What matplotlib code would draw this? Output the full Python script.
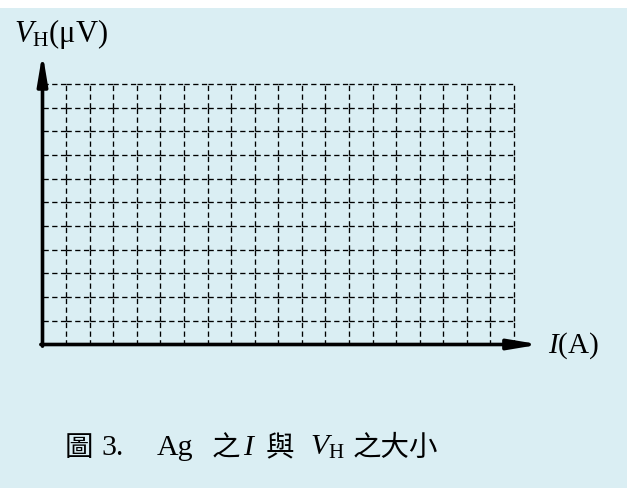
import matplotlib
matplotlib.use("Agg")
import matplotlib.pyplot as plt
from matplotlib.collections import LineCollection
from matplotlib.patches import Rectangle

# empty graph paper: 20 columns x 11 rows
n_cols = 20
n_rows = 11
y_label = r"$V_\mathrm{H}$(μV)"
x_label = r"$I$(A)"
caption_parts = [
    ("圖", 65, "cjk"),
    ("3.", 101, "serif"),
    ("Ag", 157, "serif"),
    ("之", 212, "cjk"),
    (r"$I$", 243, "serif"),
    ("與", 266, "cjk"),
    (r"$V_\mathrm{H}$", 310, "serif"),
    ("之大小", 353, "cjk"),
]

plt.rcParams["mathtext.fontset"] = "custom"
plt.rcParams["mathtext.rm"] = "Liberation Serif"
plt.rcParams["mathtext.it"] = "Liberation Serif:italic"

W, H = 627, 488
bg = "#DAEEF3"
fig = plt.figure(figsize=(W / 100, H / 100), dpi=100, facecolor=bg)
# white strip along the top
fig.patches.append(Rectangle((0, 1 - 8 / H), 1, 8 / H, transform=fig.transFigure,
                             facecolor="white", edgecolor="none"))

x0, x1 = 42.5, 514
y0, y1 = 344.5, 84
ax = fig.add_axes([x0 / W, (H - y0) / H, (x1 - x0) / W, (y0 - y1) / H])
ax.set_xlim(0, n_cols)
ax.set_ylim(0, n_rows)
ax.axis("off")
ax.patch.set_visible(False)

# dashed grid, each cell edge drawn separately
segs = []
for i in range(1, n_cols + 1):
    for j in range(n_rows):
        segs.append([(i, j), (i, j + 1)])
for j in range(1, n_rows + 1):
    for i in range(n_cols):
        segs.append([(i, j), (i + 1, j)])
lc = LineCollection(segs, colors="black", linewidths=0.95,
                    linestyles=[(0, (4.0, 2.6))])
lc.set_clip_on(False)
ax.add_collection(lc)

# axes with arrows
arrow = dict(arrowstyle="-|>,head_length=1.8,head_width=0.3", lw=2.6,
             color="black", shrinkA=0, shrinkB=0, mutation_scale=10)
ax.annotate("", xy=(0, 12.31), xytext=(0, -0.07), arrowprops=arrow,
            annotation_clip=False)
ax.annotate("", xy=(21.1, 0), xytext=(-0.07, 0), arrowprops=arrow,
            annotation_clip=False)

serif = "Liberation Serif"
fig.text(14 / W, 1 - 42 / H, y_label, family=serif, fontsize=22, va="baseline")
fig.text(548 / W, 1 - 353 / H, x_label, family=serif, fontsize=21, va="baseline")

for txt, px, kind in caption_parts:
    if kind == "cjk":
        fig.text(px / W, 1 - 456 / H, txt, family=["Noto Sans CJK TC", "DejaVu Sans"],
                 fontsize=20.5, va="baseline")
    else:
        fig.text(px / W, 1 - 455 / H, txt, family=serif, fontsize=21.5, va="baseline")

fig.savefig("out.png", dpi=100, facecolor=bg)
